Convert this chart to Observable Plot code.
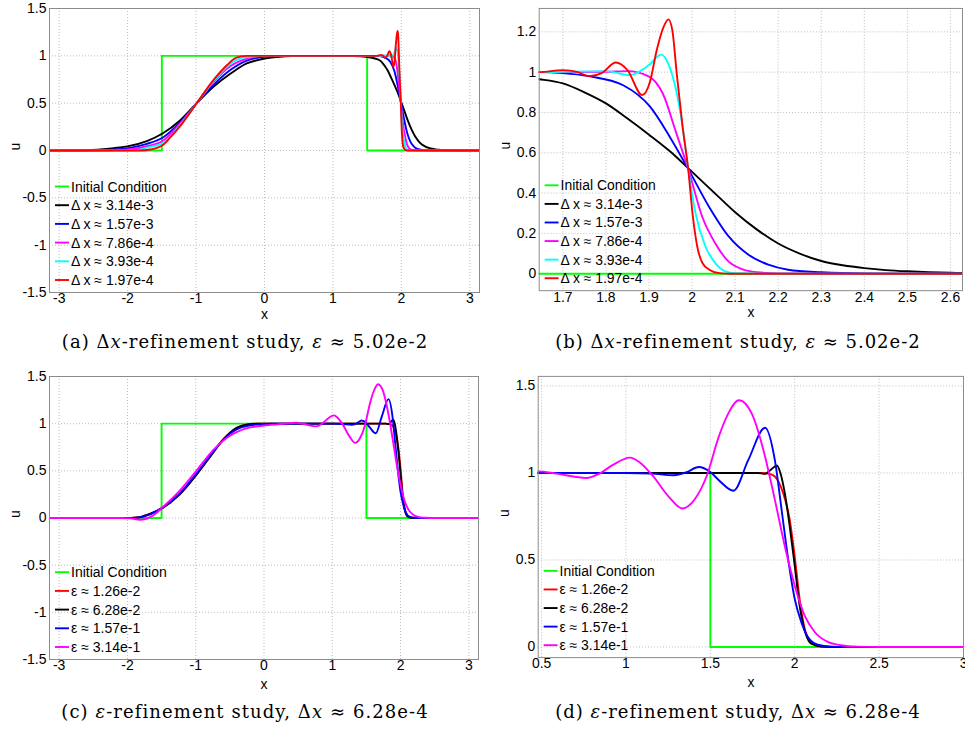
<!DOCTYPE html>
<html><head><meta charset="utf-8">
<script src="https://cdn.jsdelivr.net/npm/d3@7"></script>
<script src="https://cdn.jsdelivr.net/npm/@observablehq/plot@0.6"></script>
<style>
html,body{margin:0;padding:0;background:#fff;}
#fig{position:relative;width:965px;height:729px;overflow:hidden;background:#fff;}
.panel{position:absolute;}
.cap{position:absolute;font-family:"DejaVu Serif","Liberation Serif",serif;font-size:18px;color:#000;white-space:nowrap;transform:translate(-50%,-50%);}
</style></head><body><div id="fig"></div>
<script>
// ---------- tick values ----------
const xTicksFull = [-3, -2, -1, 0, 1, 2, 3];
const yTicksFull = [-1.5, -1, -0.5, 0, 0.5, 1, 1.5];
const xTicksB = [1.7, 1.8, 1.9, 2, 2.1, 2.2, 2.3, 2.4, 2.5, 2.6];
const yTicksB = [0, 0.2, 0.4, 0.6, 0.8, 1, 1.2];
const xTicksD = [0.5, 1, 1.5, 2, 2.5, 3];
const yTicksD = [0, 0.5, 1, 1.5];

// ---------- data: initial condition ----------
const initialCondition = [[-3.1416,0],[-1.5,0],[-1.5,1],[1.5,1],[1.5,0],[3.1416,0]];

// ---------- Δx-refinement study (panels a, b) ----------
const dx314e3 = [[-3.1416,0],[-2.8,0],[-2.6,0.003],[-2.4,0.01],[-2.2,0.025],[-1.99,0.046],[-1.72,0.10],[-1.49,0.18],[-1.23,0.32],[-0.99,0.5],[-0.75,0.67],[-0.5,0.81],[-0.26,0.92],[0.0,0.97],[0.22,0.99],[0.4,0.997],[0.7,1.0],[1.2,1.0],[1.4,0.995],[1.55,0.982],[1.645,0.965],[1.7,0.944],[1.75,0.90],[1.8,0.845],[1.85,0.77],[1.9,0.69],[1.95,0.605],[2.0,0.505],[2.05,0.405],[2.1,0.305],[2.15,0.22],[2.2,0.15],[2.25,0.10],[2.3,0.063],[2.35,0.042],[2.4,0.028],[2.45,0.018],[2.5,0.012],[2.55,0.008],[2.6,0.005],[2.8,0],[3.1416,0]];
const dx157e3 = [[-3.1416,0],[-2.6,0],[-2.4,0.003],[-2.2,0.01],[-1.99,0.025],[-1.72,0.07],[-1.49,0.135],[-1.23,0.30],[-0.99,0.5],[-0.75,0.69],[-0.5,0.85],[-0.26,0.95],[0.0,0.99],[0.22,1.0],[1.5,1.0],[1.645,1.0],[1.7,0.995],[1.76,0.98],[1.84,0.935],[1.902,0.83],[1.948,0.68],[1.991,0.52],[2.04,0.33],[2.085,0.185],[2.131,0.094],[2.177,0.045],[2.223,0.02],[2.3,0.007],[2.4,0.001],[2.6,0],[3.1416,0]];
const dx786e4 = [[-3.1416,0],[-2.4,0],[-2.2,0.002],[-1.99,0.01],[-1.72,0.045],[-1.49,0.10],[-1.23,0.29],[-0.99,0.5],[-0.75,0.72],[-0.5,0.89],[-0.26,0.97],[0.0,1.0],[1.5,1.0],[1.645,1.0],[1.8,1.002],[1.85,1.005],[1.9,0.978],[1.932,0.894],[1.963,0.70],[1.991,0.52],[2.024,0.28],[2.054,0.15],[2.085,0.06],[2.116,0.023],[2.15,0.008],[2.2,0.002],[2.3,0],[3.1416,0]];
const dx393e4 = [[-3.1416,0],[-2.2,0],[-1.99,0.002],[-1.82,0.008],[-1.72,0.03],[-1.49,0.075],[-1.23,0.27],[-0.99,0.5],[-0.75,0.73],[-0.5,0.915],[-0.36,0.97],[-0.16,0.995],[0.0,1.0],[1.5,1.0],[1.645,1.0],[1.8,1.005],[1.855,0.985],[1.9,1.035],[1.928,1.087],[1.946,1.035],[1.963,0.91],[1.978,0.73],[1.991,0.52],[2.008,0.30],[2.031,0.135],[2.054,0.053],[2.077,0.012],[2.1,0.003],[2.2,0],[3.1416,0]];
const dx197e4 = [[-3.1416,0],[-2.0,0],[-1.82,0],[-1.67,0.01],[-1.49,0.055],[-1.38,0.135],[-1.23,0.26],[-0.99,0.5],[-0.75,0.74],[-0.55,0.90],[-0.41,0.98],[-0.26,1.0],[1.5,1.0],[1.645,1.0],[1.7,1.01],[1.735,1.0],[1.761,0.98],[1.79,0.995],[1.823,1.048],[1.85,1.01],[1.884,0.886],[1.902,0.95],[1.918,1.11],[1.933,1.22],[1.945,1.262],[1.954,1.21],[1.965,0.98],[1.978,0.73],[1.991,0.52],[2.001,0.30],[2.012,0.135],[2.024,0.053],[2.04,0.02],[2.063,0.003],[2.09,0],[3.1416,0]];

// ---------- ε-refinement study (panels c, d) ----------
const eps126e2 = [[-3.1416,0],[-2.0,0],[-1.9,0.002],[-1.8,0.012],[-1.7,0.035],[-1.6,0.065],[-1.49,0.105],[-1.234,0.25],[-0.991,0.457],[-0.748,0.69],[-0.6,0.83],[-0.505,0.9],[-0.4,0.955],[-0.26,0.99],[-0.1,0.999],[0.1,1.0],[1.8,1.0],[1.85,0.995],[1.882,0.98],[1.931,0.885],[1.97,0.733],[2.0,0.52],[2.029,0.276],[2.059,0.105],[2.098,0.029],[2.157,0.004],[2.25,0],[3.1416,0]];
const eps628e2 = [[-3.1416,0],[-2.0,0],[-1.9,0.002],[-1.8,0.012],[-1.7,0.035],[-1.6,0.065],[-1.49,0.105],[-1.234,0.25],[-0.991,0.457],[-0.748,0.69],[-0.6,0.83],[-0.505,0.9],[-0.4,0.955],[-0.26,0.99],[-0.1,0.999],[0.1,1.0],[1.78,1.0],[1.824,0.995],[1.86,1.02],[1.894,1.043],[1.915,1.0],[1.941,0.885],[1.97,0.695],[2.0,0.466],[2.029,0.238],[2.059,0.095],[2.098,0.019],[2.157,0.003],[2.25,0],[3.1416,0]];
const eps157e1 = [[-3.1416,0],[-2.0,0],[-1.9,0.001],[-1.8,0.008],[-1.7,0.03],[-1.6,0.065],[-1.49,0.108],[-1.234,0.26],[-0.991,0.47],[-0.748,0.70],[-0.6,0.825],[-0.505,0.89],[-0.4,0.94],[-0.26,0.975],[-0.1,0.993],[0.1,0.999],[0.3,1.0],[1.0,1.0],[1.15,0.997],[1.284,0.987],[1.36,1.005],[1.431,1.034],[1.5,1.005],[1.549,0.96],[1.637,0.898],[1.725,1.075],[1.824,1.26],[1.882,1.075],[1.922,0.79],[1.961,0.505],[2.0,0.276],[2.039,0.143],[2.078,0.057],[2.137,0.013],[2.216,0.002],[2.3,0],[3.1416,0]];
const eps314e1 = [[-3.1416,0],[-2.1,0],[-1.95,-0.004],[-1.82,-0.018],[-1.72,-0.008],[-1.6,0.04],[-1.49,0.11],[-1.234,0.29],[-0.991,0.5],[-0.748,0.716],[-0.6,0.82],[-0.505,0.87],[-0.4,0.91],[-0.261,0.95],[0.0,0.98],[0.2,0.993],[0.48,1.009],[0.588,0.996],[0.765,0.971],[0.843,0.996],[0.92,1.045],[1.025,1.088],[1.078,1.063],[1.156,0.987],[1.254,0.863],[1.333,0.796],[1.411,0.853],[1.48,0.987],[1.549,1.206],[1.6,1.33],[1.67,1.418],[1.745,1.342],[1.824,1.095],[1.882,0.847],[1.941,0.58],[2.0,0.352],[2.059,0.18],[2.118,0.086],[2.196,0.029],[2.275,0.01],[2.37,0.002],[2.5,0],[3.1416,0]];

// ---------- labels ----------
const legendDx = ["Initial Condition", "Δ x ≈ 3.14e-3", "Δ x ≈ 1.57e-3", "Δ x ≈ 7.86e-4", "Δ x ≈ 3.93e-4", "Δ x ≈ 1.97e-4"];
const legendEps = ["Initial Condition", "ε ≈ 1.26e-2", "ε ≈ 6.28e-2", "ε ≈ 1.57e-1", "ε ≈ 3.14e-1"];
const captions = [
  "(a) Δ<i>x</i>-refinement study, <i>ε</i> ≈ 5.02e-2",
  "(b) Δ<i>x</i>-refinement study, <i>ε</i> ≈ 5.02e-2",
  "(c) <i>ε</i>-refinement study, Δ<i>x</i> ≈ 6.28e-4",
  "(d) <i>ε</i>-refinement study, Δ<i>x</i> ≈ 6.28e-4"
];

const colorsDx = ["#00ff00", "#000000", "#0000ff", "#ff00ff", "#00ffff", "#ff0000"];
const colorsEps = ["#00ff00", "#ff0000", "#000000", "#0000ff", "#ff00ff"];
const seriesDx = [initialCondition, dx314e3, dx157e3, dx786e4, dx393e4, dx197e4];
const seriesEps = [initialCondition, eps126e2, eps628e2, eps157e1, eps314e1];

const panels = [
  {left:0, top:0, width:490, height:330, mL:49, mR:11, mT:8, mB:38, xd:[-3.1416,3.1416], yd:[-1.5,1.5], xt:xTicksFull, yt:yTicksFull, series:seriesDx, colors:colorsDx, legend:legendDx, xlDy:22.5, cap:[245,341,366]},
  {left:490, top:0, width:478, height:330, mL:49, mR:3, mT:8, mB:38, xd:[1.645,2.628], yd:[-0.084,1.316], xt:xTicksB, yt:yTicksB, series:seriesDx, colors:colorsDx, legend:legendDx, xlDy:22.5, cap:[738,341,365]},
  {left:0, top:360, width:490, height:340, mL:49, mR:12, mT:16, mB:41, xd:[-3.1416,3.1416], yd:[-1.5,1.5], xt:xTicksFull, yt:yTicksFull, series:seriesEps, colors:colorsEps, legend:legendEps, xlDy:25, cap:[245,711,367]},
  {left:490, top:360, width:478, height:340, mL:48, mR:2, mT:16, mB:41, xd:[0.48,3.0], yd:[-0.061,1.555], xt:xTicksD, yt:yTicksD, series:seriesEps, colors:colorsEps, legend:legendEps, xlDy:25, cap:[738,711,365]}
];

const fmt = d => String(d);
const fig = document.getElementById("fig");

panels.forEach((p, pi) => {
  const lineMarks = p.series.map((s, i) => Plot.line(s, {
    x: d => d[0], y: d => d[1], stroke: p.colors[i], strokeWidth: 1.9,
    curve: i === 0 ? "linear" : "monotone-x", clip: true
  }));
  const svg = Plot.plot({
    width: p.width, height: p.height,
    marginLeft: p.mL, marginRight: p.mR, marginTop: p.mT, marginBottom: p.mB,
    x: {domain: p.xd}, y: {domain: p.yd},
    style: {fontFamily: "'Liberation Sans', Arial, sans-serif", fontSize: "14px", color: "#000", background: "transparent", overflow: "visible"},
    marks: [
      Plot.gridX(p.xt, {stroke: "#bdbdbd", strokeOpacity: 1, strokeDasharray: "1,2"}),
      Plot.gridY(p.yt, {stroke: "#bdbdbd", strokeOpacity: 1, strokeDasharray: "1,2"}),
      ...lineMarks,
      Plot.frame({stroke: "#8c8c8c"}),
      Plot.axisX(p.xt, {tickSize: 0, tickPadding: 1, tickFormat: fmt, label: null, fontSize: 14}),
      Plot.axisY(p.yt, {tickSize: 0, tickPadding: 3, tickFormat: fmt, label: null, fontSize: 14}),
      Plot.text(["x"], {frameAnchor: "bottom", lineAnchor: "middle", dy: p.xlDy, fontSize: 14}),
      Plot.text(["u"], {frameAnchor: "left", dx: -34, rotate: -90, fontSize: 14})
    ]
  });
  // legend (inside axes, bottom-left, no box)
  const g = d3.select(svg).append("g")
    .attr("font-family", "'Liberation Sans', Arial, sans-serif").attr("font-size", 14)
    .attr("text-anchor", "start");
  const n = p.legend.length, fb = p.height - p.mB;
  p.legend.forEach((lab, i) => {
    const cy = fb - 12 - (n - 1 - i) * 18.7;
    g.append("line").attr("x1", p.mL + 6).attr("x2", p.mL + 20).attr("y1", cy).attr("y2", cy)
      .attr("stroke", p.colors[i]).attr("stroke-width", 1.9);
    g.append("text").attr("x", p.mL + 22).attr("y", cy).attr("dy", "0.36em")
      .attr("text-anchor", "start").attr("fill", "#000").text(lab);
  });
  const wrap = document.createElement("div");
  wrap.className = "panel";
  wrap.style.left = p.left + "px"; wrap.style.top = p.top + "px";
  wrap.appendChild(svg);
  fig.appendChild(wrap);
  const cap = document.createElement("div");
  cap.className = "cap";
  cap.style.left = p.cap[0] + "px"; cap.style.top = p.cap[1] + "px";
  cap.innerHTML = captions[pi];
  fig.appendChild(cap);
  // fit the caption to the reference caption width with a small spacing adjustment
  const w = cap.getBoundingClientRect().width;
  const nch = cap.textContent.length;
  cap.style.letterSpacing = ((p.cap[2] - w) / nch).toFixed(2) + "px";
});
</script></body></html>
